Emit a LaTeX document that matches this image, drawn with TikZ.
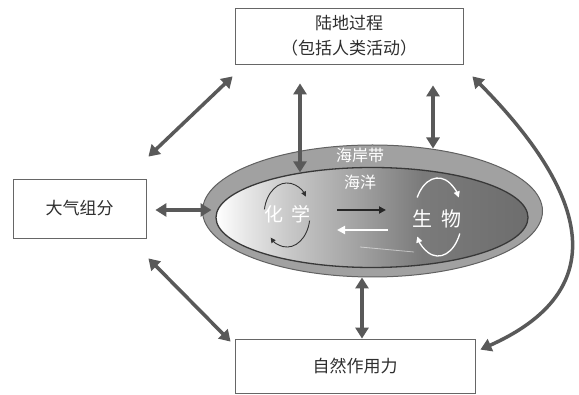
\documentclass[tikz,border=0pt]{standalone}
\usepackage{fontspec}
\setmainfont{Noto Sans CJK SC}
\usetikzlibrary{arrows.meta,shapes.geometric,calc}
\pgfdeclarehorizontalshading{oceanshade}{100bp}{color(0bp)=(white); color(25bp)=(white); color(30bp)=(black!10); color(37bp)=(black!22); color(48bp)=(black!37); color(58bp)=(black!52); color(75bp)=(black!57); color(100bp)=(black!57)}
\begin{document}
\begin{tikzpicture}[x=1pt,y=-1pt,
  box/.style={draw=black!60, line width=0.8pt, fill=white, inner sep=0pt, text=black!82, font=\fontsize{17}{25}\selectfont, align=center},
  arr/.style={draw=black!65, line width=3.5pt, {Triangle[length=11pt,width=13pt]}-{Triangle[length=11pt,width=13pt]}},
  wtxt/.style={text=white, inner sep=0pt},
  darc/.style={draw=black!80, line width=0.9pt, -{Triangle[length=5pt,width=5pt]}},
  warc/.style={draw=white, line width=1.3pt, -{Triangle[length=6pt,width=6pt]}}]
\useasboundingbox (0,0) rectangle (579,395);
% boxes
\node[box, minimum width=228pt, minimum height=56pt] (land) at (349,36) {陆地过程\\（包括人类活动）};
\node[box, minimum width=133pt, minimum height=59pt] (atm) at (79.5,208.5) {大气组分};
\node[box, minimum width=240pt, minimum height=54pt] (force) at (355,366) {自然作用力};
% ellipses
\node[ellipse, draw=black!62, line width=1pt, fill=black!37, minimum width=340pt, minimum height=132pt, inner sep=0pt] (coast) at (372.5,211) {};
\node[ellipse, draw=black!78, line width=1.3pt, shade, shading=oceanshade, minimum width=312pt, minimum height=100pt, inner sep=0pt] (ocean) at (372,217.5) {};
% texts in ellipse
\node[wtxt, font=\fontsize{16}{16}\selectfont] (coasttxt) at (360,155) {海岸带};
\node[wtxt, font=\fontsize{16}{16}\selectfont] (seatxt) at (360,182) {海洋};
\node[wtxt, font=\fontsize{19}{19}\selectfont] (chem) at (287,214) {化\hspace{8pt}学};
\node[wtxt, font=\fontsize{20}{20}\selectfont] (bio) at (437,219) {生\hspace{9pt}物};
% cycles
\draw[darc] (264.4,209.4) arc[start angle=-170, end angle=-35, x radius=23, y radius=32];
\draw[darc] (309.6,220.6) arc[start angle=10, end angle=135, x radius=23, y radius=32];
\draw[warc] (417.2,197.5) arc[start angle=-150, end angle=-30, x radius=24, y radius=39];
\draw[warc] (459.8,233.5) arc[start angle=25, end angle=150, x radius=24, y radius=39];
\draw[white, opacity=.5, line width=0.8pt] (360,247) -- (414,252);
% exchange arrows
\coordinate (c2b0) at (337,210);
\coordinate (c2b1) at (386,210);
\coordinate (b2c0) at (388,230);
\coordinate (b2c1) at (337,230);
\draw[black!85, line width=2.2pt, -{Triangle[length=7pt,width=7pt]}] (c2b0) -- (c2b1);
\draw[white, line width=2.8pt, -{Triangle[length=8pt,width=8pt]}] (b2c0) -- (b2c1);
% connectors
\draw[arr] ([shift={(-2,12)}]land.south west) -- ([shift={(2,-22)}]atm.north east);
\draw[arr] ([shift={(2,20)}]atm.south east) -- ([shift={(-4,3)}]force.north west);
\draw[arr] ([shift={(9,1.5)}]atm.east) -- ([shift={(9.5,-1)}]coast.west);
\draw[arr] ([shift={(-49,19)}]land.south) -- ([shift={(-72,5.5)}]ocean.north);
\draw[arr] ([shift={(84,21)}]land.south) -- ([shift={(60.5,4)}]coast.north);
\draw[arr] ([shift={(-10.5,0)}]coast.south) -- ([shift={(7,0)}]force.north);
\draw[arr] ([shift={(9,12)}]land.south east) .. controls (575,180) and (625,285) .. ([shift={(5,11)}]force.north east);
\end{tikzpicture}
\end{document}
